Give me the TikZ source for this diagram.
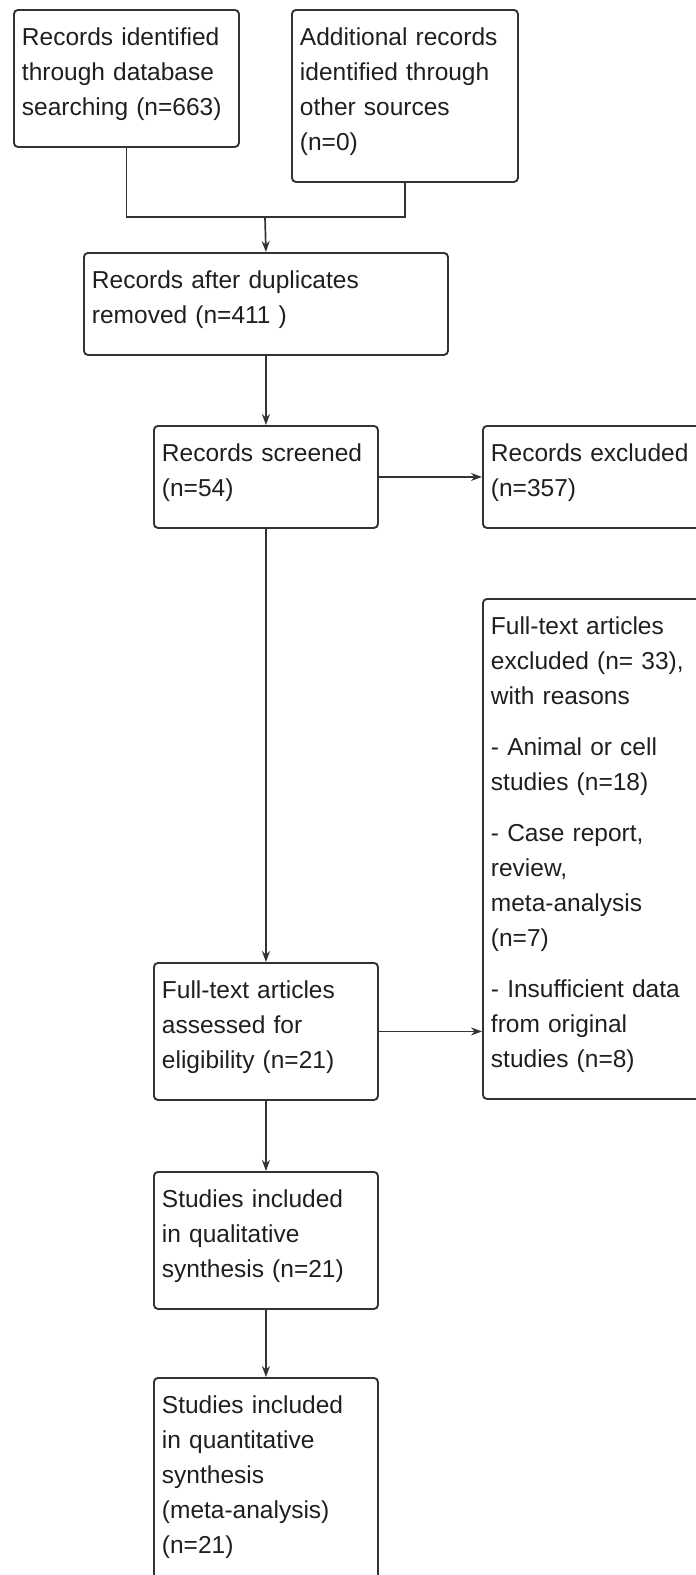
\documentclass[tikz,border=0pt]{standalone}
\usepackage{fontspec}
\setmainfont{Liberation Sans}
\usepackage{xcolor}
\usepackage{tikz}
\usetikzlibrary{arrows.meta}
\tikzset{
    boxnode/.style = {align=left, inner xsep=8pt, inner ysep=0pt, anchor=north west, text=black!88,
                      font=\fontsize{24.5}{35}\selectfont,
                      execute at begin node=\rule{0pt}{36pt},
                      execute at end node=\rule[-31pt]{0pt}{31pt}},
    flow_box/.style = {boxnode, rectangle, rounded corners=4pt, draw=black!80, line width=1.9pt, text width=#1},
    link/.style = {draw=black!80, line width=1.7pt}
}

\begin{document}
\begin{tikzpicture}
            [x=1pt, y=-1pt, >={Stealth[length=11pt, width=8pt]}]

            \useasboundingbox (0,0) rectangle (696,1575);
            \clip (0,0) rectangle (696,1575);

            % identification
            \node (rec_db) [flow_box=209pt] at (13,9)
                {Records identified\\through database\\searching (n=663)};
            \node (rec_other) [flow_box=210pt] at (291,9)
                {Additional records\\identified through\\other sources\\(n=0)};

            % screening
            \node (rec_dedup) [flow_box=348pt] at (83,252)
                {Records after duplicates\\removed (n=411 )};
            \node (rec_screen) [flow_box=208pt] at (153,425)
                {Records screened\\(n=54)};
            \node (rec_excl) [flow_box=260pt] at (482,425)
                {Records excluded\\(n=357)};

            % eligibility
            \node (ft_excl) [flow_box=260pt] at (482,598)
                {Full-text articles\\excluded (n= 33),\\with reasons\\[16pt]
                 - Animal or cell\\studies (n=18)\\[16pt]
                 - Case report,\\review,\\meta-analysis\\(n=7)\\[16pt]
                 - Insufficient data\\from original\\studies (n=8)};
            \node (ft_assess) [flow_box=208pt] at (153,962)
                {Full-text articles\\assessed for\\eligibility (n=21)};

            % included
            \node (qual) [flow_box=208pt] at (153,1171)
                {Studies included\\in qualitative\\synthesis (n=21)};
            \node (quant) [flow_box=208pt] at (153,1377)
                {Studies included\\in quantitative\\synthesis\\(meta-analysis)\\(n=21)};

            % connectors
            \coordinate (merge) at (265,217);
            \draw [link] (rec_db.south) |- (merge) -| (rec_other.south);
            \draw [link, ->] (merge) -- (rec_dedup.north);
            \draw [link, ->] (rec_dedup.south) -- (rec_screen.north);
            \draw [link, ->] (rec_screen.east) -- (rec_excl.west);
            \draw [link, ->] (rec_screen.south) -- (ft_assess.north);
            \draw [link, ->] (ft_assess.east) -- (ft_assess.east -| ft_excl.west);
            \draw [link, ->] (ft_assess.south) -- (qual.north);
            \draw [link, ->] (qual.south) -- (quant.north);
        \end{tikzpicture}
\end{document}
